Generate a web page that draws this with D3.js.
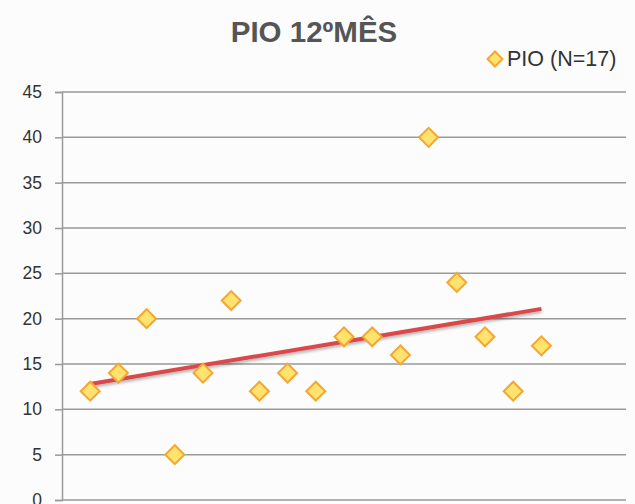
<!DOCTYPE html>
<html><head><meta charset="utf-8">
<script src="https://cdn.jsdelivr.net/npm/d3@7"></script>
<style>body{margin:0;background:#fcfcfc;}svg{display:block;}</style>
</head><body>
<script>
const title = "PIO 12ºMÊS";
const seriesName = "PIO (N=17)";
const xValues = [1,2,3,4,5,6,7,8,9,10,11,12,13,14,15,16,17];
const pioValues = [12,14,20,5,14,22,12,14,12,18,18,16,40,24,18,12,17];
const yTicks = [0,5,10,15,20,25,30,35,40,45];

const W = 635, H = 504;
const svg = d3.select("body").append("svg").attr("width", W).attr("height", H);
svg.append("rect").attr("width", W).attr("height", H).attr("fill", "#fcfcfc");

const x = d3.scaleLinear().domain([0, 20]).range([62, 626]);
const y = d3.scaleLinear().domain([0, 45]).range([500, 92]);

// gridlines
svg.append("g").selectAll("line").data(yTicks).join("line")
  .attr("x1", x(0)).attr("x2", x(20))
  .attr("y1", d => y(d)).attr("y2", d => y(d))
  .attr("stroke", "#9a9a9a").attr("stroke-width", 1.5);

// y axis
const yAxis = d3.axisLeft(y).tickValues(yTicks).tickSize(7).tickPadding(13);
const ga = svg.append("g").attr("transform", `translate(${x(0)},0)`).call(yAxis);
ga.select(".domain").attr("stroke", "#9a9a9a").attr("stroke-width", 1.5);
ga.selectAll(".tick line").attr("stroke", "#9a9a9a").attr("stroke-width", 1.5);
ga.selectAll(".tick text").attr("font-family", "Liberation Sans, Arial, sans-serif")
  .attr("font-size", 17.5).attr("fill", "#333");

// trendline (least squares)
const mx = d3.mean(xValues), my = d3.mean(pioValues);
const slope = d3.sum(xValues.map((v,i)=>(v-mx)*(pioValues[i]-my))) / d3.sum(xValues.map(v=>(v-mx)**2));
const icpt = my - slope*mx;
const x0 = d3.min(xValues), x1 = d3.max(xValues);
const defs = svg.append("defs");
const f = defs.append("filter").attr("id","sh").attr("x","-10%").attr("y","-50%").attr("width","120%").attr("height","200%");
f.append("feDropShadow").attr("dx",0).attr("dy",2).attr("stdDeviation",1.5).attr("flood-color","#000").attr("flood-opacity",0.3);
svg.append("line")
  .attr("x1", x(x0)).attr("y1", y(icpt + slope*x0))
  .attr("x2", x(x1)).attr("y2", y(icpt + slope*x1))
  .attr("stroke", "#d9494a").attr("stroke-width", 4).attr("filter","url(#sh)");

// points
const diamond = d3.symbol().type(d3.symbolSquare).size(180);
svg.append("g").selectAll("path").data(pioValues).join("path")
  .attr("d", diamond)
  .attr("transform", (d,i) => `translate(${x(xValues[i])},${y(d)}) rotate(45)`)
  .attr("fill", "#ffe36e").attr("stroke", "#f4a532").attr("stroke-width", 2);

// title
svg.append("text").attr("x", 314).attr("y", 42).attr("text-anchor", "middle")
  .attr("font-family", "Liberation Sans, Arial, sans-serif").attr("font-weight", "bold")
  .attr("font-size", 29.5).attr("fill", "#555").text(title);

// legend
svg.append("path").attr("d", d3.symbol().type(d3.symbolSquare).size(112))
  .attr("transform", "translate(495,59) rotate(45)")
  .attr("fill", "#ffe36e").attr("stroke", "#f4a532").attr("stroke-width", 2);
svg.append("text").attr("x", 507).attr("y", 66)
  .attr("font-family", "Liberation Sans, Arial, sans-serif")
  .attr("font-size", 21.5).attr("fill", "#333").text(seriesName);
</script>
</body></html>
